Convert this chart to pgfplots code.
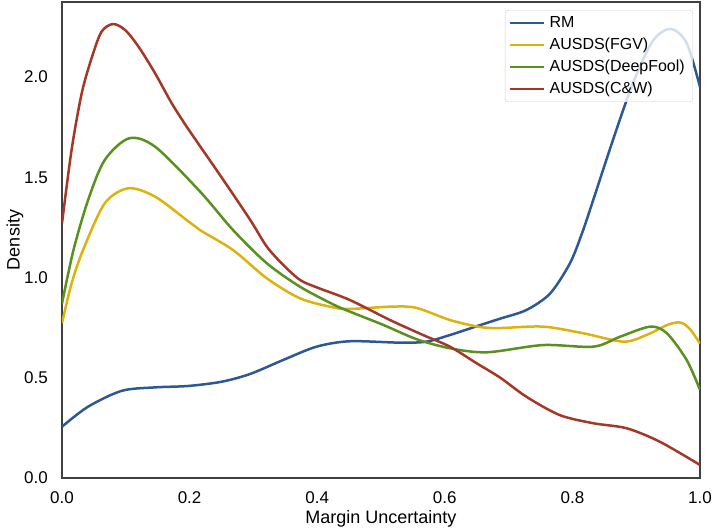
\documentclass[border=0pt]{standalone}
\usepackage{fontspec}
\setmainfont{Liberation Sans}
\usepackage{pgfplots}
\pgfplotsset{compat=1.18}
\definecolor{cRM}{RGB}{44,88,150}
\definecolor{cFGV}{RGB}{222,177,14}
\definecolor{cDF}{RGB}{90,145,30}
\definecolor{cCW}{RGB}{165,55,40}
\begin{document}
\begin{tikzpicture}
\path[use as bounding box] (-62bp,-54bp) rectangle (652bp,478bp);
\begin{axis}[
  scale only axis,
  width=638bp, height=476bp,
  xmin=0, xmax=1, ymin=0, ymax=2.374,
  xtick={0,0.2,0.4,0.6,0.8,1.0},
  ytick={0,0.5,1.0,1.5,2.0},
  major tick length=0pt,
  axis line style={draw=black!75, line width=1.4bp},
  tick label style={font=\fontsize{17bp}{20bp}\selectfont, inner sep=0pt},
  /pgf/number format/assume math mode=true,
  /pgf/number format/fixed, /pgf/number format/fixed zerofill, /pgf/number format/precision=1,
  xticklabel shift=13bp,
  yticklabel shift=14bp,
  xlabel={Margin Uncertainty},
  ylabel={Density},
  label style={font=\fontsize{18bp}{21bp}\selectfont},
  xlabel style={at={(axis description cs:0.5,-0.0861)}, anchor=center},
  ylabel style={at={(axis description cs:-0.0737,0.5)}, anchor=center},
  legend cell align=left,
  legend style={at={(axis description cs:0.989,0.983)}, anchor=north east,
    draw=black!20, rounded corners=3bp, fill=white, fill opacity=0.8, text opacity=1,
    font=\fontsize{16bp}{19bp}\selectfont, inner xsep=4bp, inner ysep=2bp,
    row sep=0.5bp,
    nodes={text height=12bp, text depth=3.5bp, inner ysep=3bp, inner xsep=4bp}},
  legend image code/.code={\draw[#1, line width=2.5bp] (0bp,0bp) -- (34bp,0bp);},
  every axis plot/.append style={line width=2.5bp, smooth, no markers},
]
\addplot[cRM] coordinates {
(0,0.256) (0.041,0.356) (0.094,0.435) (0.146,0.452) (0.198,0.459) (0.25,0.48)
(0.295,0.519) (0.347,0.589) (0.399,0.655) (0.451,0.682) (0.53,0.675) (0.571,0.68)
(0.608,0.713) (0.65,0.757) (0.687,0.795) (0.728,0.838) (0.765,0.92) (0.796,1.07)
(0.815,1.22) (0.833,1.39) (0.864,1.69) (0.895,1.97) (0.926,2.18) (0.954,2.24)
(0.979,2.17) (1.0,1.95)};
\addlegendentry{RM}
\addplot[cFGV] coordinates {
(0,0.772) (0.015,0.97) (0.033,1.137) (0.067,1.37) (0.104,1.445) (0.146,1.403)
(0.198,1.28) (0.216,1.237) (0.268,1.137) (0.321,0.996) (0.373,0.896) (0.425,0.851)
(0.451,0.843) (0.519,0.855) (0.556,0.848) (0.608,0.788) (0.655,0.753) (0.687,0.748) (0.754,0.755)
(0.817,0.722) (0.88,0.68) (0.916,0.713) (0.95,0.765) (0.97,0.775) (0.985,0.74) (1.0,0.67)};
\addlegendentry{AUSDS(FGV)}
\addplot[cDF] coordinates {
(0,0.87) (0.018,1.137) (0.041,1.387) (0.067,1.586) (0.105,1.694) (0.146,1.652)
(0.216,1.43) (0.268,1.237) (0.321,1.071) (0.373,0.954) (0.425,0.866) (0.451,0.83)
(0.504,0.763) (0.556,0.692) (0.608,0.647) (0.666,0.627) (0.754,0.663) (0.833,0.655)
(0.875,0.705) (0.922,0.755) (0.948,0.722) (0.979,0.589) (1.0,0.44)};
\addlegendentry{AUSDS(DeepFool)}
\addplot[cCW] coordinates {
(0,1.27) (0.015,1.636) (0.031,1.92) (0.047,2.10) (0.062,2.226) (0.080,2.264)
(0.099,2.234) (0.12,2.151) (0.146,2.018) (0.172,1.869) (0.198,1.74) (0.25,1.50)
(0.295,1.287) (0.321,1.154) (0.347,1.062) (0.373,0.988) (0.399,0.951) (0.451,0.888)
(0.514,0.788) (0.566,0.713) (0.608,0.655) (0.65,0.572) (0.687,0.50) (0.728,0.405) (0.78,0.314)
(0.833,0.273) (0.885,0.248) (0.937,0.181) (1.0,0.065)};
\addlegendentry{AUSDS(C\&W)}
\end{axis}
\end{tikzpicture}
\end{document}
